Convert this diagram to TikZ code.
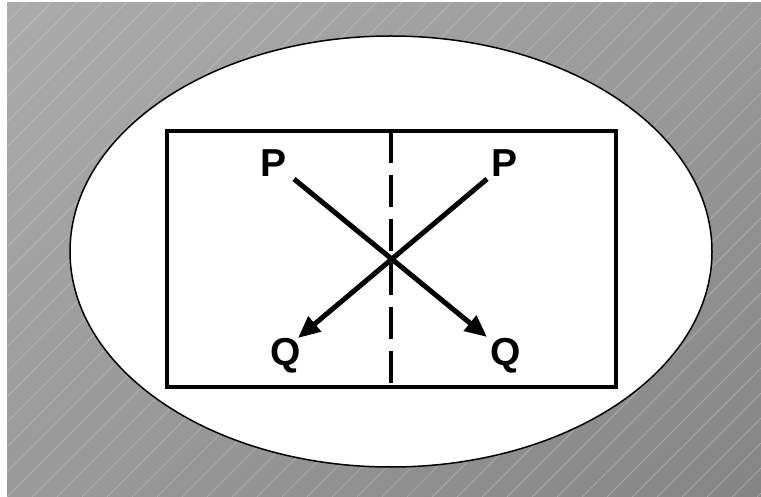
\documentclass[tikz,border=0pt]{standalone}
\usepackage{fontspec}
\setmainfont{Liberation Sans}
\usetikzlibrary{arrows.meta,shadings,shapes.geometric}
\definecolor{bgA}{HTML}{ABABAB}
\definecolor{bgB}{HTML}{9A9A9A}
\definecolor{bgC}{HTML}{858585}
\tikzset{
  lbl/.style={font=\fontsize{39}{39}\selectfont\bfseries, inner sep=0pt},
  arr/.style={line width=5pt, -{Triangle[length=22pt,width=19pt]}},
  frame/.style={draw, line width=4.5pt},
}
\begin{document}
\begin{tikzpicture}[x=1pt,y=-1pt]
\useasboundingbox (0,0) rectangle (761,497);
\fill[white] (0,0) rectangle (761,497);
\shade[upper left=bgA, upper right=bgB, lower left=bgB, lower right=bgC] (7,3) rectangle (761,497);
\begin{scope}
\clip (7,3) rectangle (761,497);
\foreach \i in {-20,...,30} {
  \draw[white, opacity=0.3, line width=0.7pt] (\i*25+7,497) -- ++(550,-550);
}
\end{scope}
\node[ellipse, draw, fill=white, line width=1.5pt, minimum width=642pt, minimum height=431pt, inner sep=0pt] (ell) at (391,251.5) {};
\node[frame, minimum width=449pt, minimum height=256pt, inner sep=0pt] (box) at (391.5,259) {};
\coordinate (dtop) at (391,131);
\coordinate (dbot) at (391,387);
\draw[line width=4.5pt, dash pattern=on 32pt off 12pt] (dtop) -- (dbot);
\node[lbl] (p1) at (274,163) {P};
\node[lbl] (p2) at (505,163) {P};
\node[lbl] (q1) at (286,356) {Q};
\node[lbl] (q2) at (506,356) {Q};
\coordinate (s1) at (294,179);
\coordinate (s2) at (487,179);
\coordinate (t1) at (298,338);
\coordinate (t2) at (487,337);
\draw[arr] (s1) -- (t2);
\draw[arr] (s2) -- (t1);
\end{tikzpicture}
\end{document}
